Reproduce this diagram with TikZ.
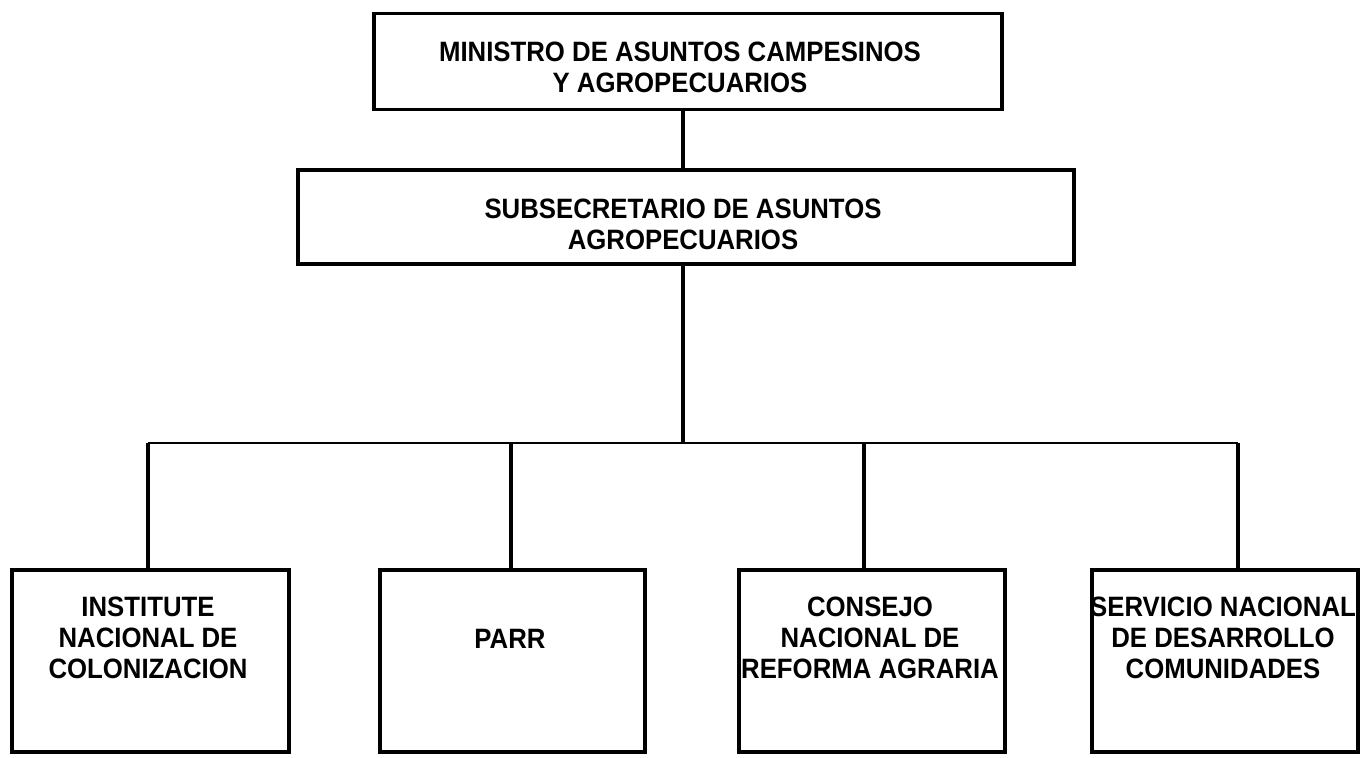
\documentclass[tikz,border=0pt]{standalone}
\usepackage{fontspec}
\setmainfont{Liberation Sans}[FakeStretch=0.92]
\begin{document}
\begin{tikzpicture}[x=1pt,y=-1pt,
  box/.style={draw, line width=3.5pt, inner sep=0pt, anchor=north west},
  lbl/.style={font=\fontsize{28}{31}\selectfont\bfseries, align=center, inner sep=0pt},
  conn/.style={line width=3.5pt},
  bus/.style={line width=2.8pt}]
\useasboundingbox (0,0) rectangle (1364,757);
% boxes
\node[box, minimum width=628pt, minimum height=96pt] (minis) at (372,12) {};
\node[box, minimum width=776pt, minimum height=94pt] (subs) at (296,168) {};
\node[box, minimum width=277pt, minimum height=182pt] (b1) at (10,568) {};
\node[box, minimum width=265pt, minimum height=182pt] (b2) at (378,568) {};
\node[box, minimum width=266pt, minimum height=182pt] (b3) at (737,568) {};
\node[box, minimum width=266pt, minimum height=182pt] (b4) at (1090,568) {};
% texts
\node[lbl] (tminis) at (680,67) {MINISTRO DE ASUNTOS CAMPESINOS\\Y AGROPECUARIOS};
\node[lbl] (tsubs) at (683,224) {SUBSECRETARIO DE ASUNTOS\\AGROPECUARIOS};
\node[lbl] (t1) at (148,638) {INSTITUTE\\NACIONAL DE\\COLONIZACION};
\node[lbl] (t2) at (510,639) {PARR};
\node[lbl] (t3) at (870,638) {CONSEJO\\NACIONAL DE\\REFORMA AGRARIA};
\node[lbl] (t4) at (1223,638) {SERVICIO NACIONAL\\DE DESARROLLO\\COMUNIDADES};
% connectors
\coordinate (bus) at (683,443);
\coordinate (d1) at (148,568);
\coordinate (d2) at (511,568);
\coordinate (d3) at (864,568);
\coordinate (d4) at (1238,568);
\draw[conn] (minis.south -| bus) -- (subs.north -| bus);
\draw[conn] (subs.south -| bus) -- (bus);
\draw[bus] (d1 |- bus) -- (d4 |- bus);
\draw[conn] (d1 |- bus) -- (d1);
\draw[conn] (d2 |- bus) -- (d2);
\draw[conn] (d3 |- bus) -- (d3);
\draw[conn] (d4 |- bus) -- (d4);
\end{tikzpicture}
\end{document}
